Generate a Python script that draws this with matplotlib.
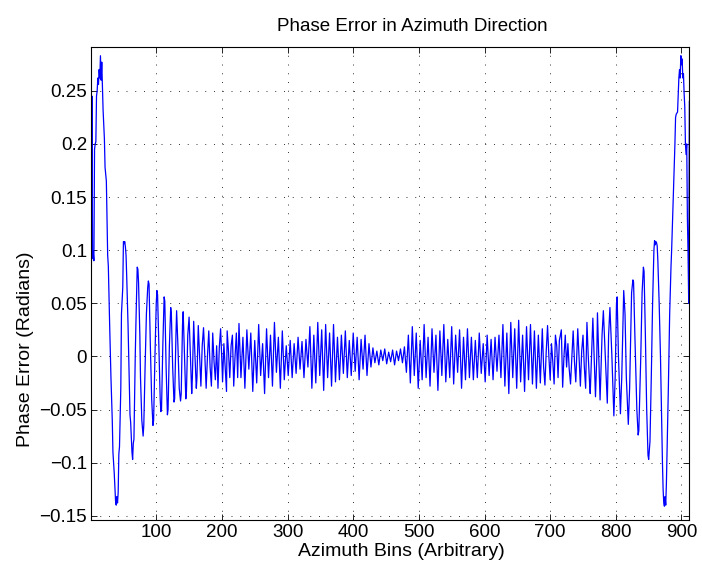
import numpy as np
import matplotlib
matplotlib.use("Agg")
import matplotlib.pyplot as plt

plt.rcParams['font.family'] = ['Liberation Sans', 'DejaVu Sans']

# left edge: big decaying swings (bin, radians)
left_x = [1, 2, 3, 4, 5, 6, 7, 8, 9, 10, 11, 12, 13, 14, 15, 16, 17, 18, 19, 21,
          22, 23, 24, 26, 27, 29, 31, 33, 34, 36, 38, 39, 40, 41, 42, 43, 44, 46, 47, 49,
          50, 51, 52, 53, 54, 55, 57, 59, 60, 61, 63, 64, 65, 66, 68, 69, 71, 72, 73, 75,
          76, 78, 80, 81, 83, 85, 87, 88, 89, 91, 93, 95, 96, 98, 100, 101, 102, 104, 106, 107,
          108, 110, 112, 113, 115, 117, 118, 120, 122, 123, 125, 127, 128, 130, 131, 133, 135, 137, 138, 140,
          141, 143, 145, 146, 148, 150, 152, 154, 155, 157, 159, 161, 162, 164, 166, 168, 170, 172, 174, 176,
          178, 180, 182, 184, 186, 188, 190, 192, 194, 196, 198, 200, 201, 203, 205, 207, 208, 210, 212, 214,
          216, 218, 220, 222, 224]
left_y = [0.046, 0.245, 0.092, 0.098, 0.09, 0.195, 0.2, 0.202, 0.245, 0.25, 0.262, 0.256, 0.27, 0.262, 0.283, 0.26, 0.277, 0.255, 0.232, 0.205,
          0.178, 0.172, 0.165, 0.095, 0.085, 0.03, -0.02, -0.06, -0.09, -0.11, -0.136, -0.14, -0.132, -0.138, -0.128, -0.092, -0.085, -0.03, 0.04, 0.065,
          0.108, 0.106, 0.108, 0.103, 0.095, 0.075, 0.03, -0.03, -0.055, -0.062, -0.09, -0.097, -0.082, -0.078, 0.0, 0.03, 0.084, 0.082, 0.07, 0.02,
          -0.02, -0.06, -0.075, -0.065, -0.01, 0.04, 0.065, 0.071, 0.068, 0.01, -0.04, -0.065, -0.06, 0.0, 0.05, 0.062, 0.058, 0.01, -0.04, -0.052,
          -0.05, 0.01, 0.056, 0.052, -0.01, -0.055, -0.05, 0.01, 0.046, 0.04, -0.01, -0.043, -0.04, 0.02, 0.043, 0.01, -0.03, -0.042, -0.035, 0.03,
          0.042, 0.0, -0.04, -0.033, 0.02, 0.037, 0.0, -0.035, -0.02, 0.033, 0.0, -0.03, -0.02, 0.029, 0.0, -0.028, 0.01, 0.027, 0.0, -0.03,
          0.0, 0.024, -0.01, -0.028, 0.022, -0.005, -0.022, 0.01, -0.03, 0.008, 0.026, -0.005, -0.024, 0.012, -0.01, -0.033, 0.024, 0.005, -0.02, 0.01,
          0.02, -0.028, 0.0, 0.022, -0.02]

# middle: dense small ripple, one value every 3 bins starting at bin 226
mid_start = 226
mid_step = 3
mid_y = [0.031, -0.02, 0.018, -0.03, 0.025, -0.012, 0.022, -0.033, 0.015, -0.025, 0.03, -0.018, 0.012, -0.035, 0.026, -0.02, 0.02, -0.028, 0.032, -0.015, 0.018, -0.03, 0.024, -0.022, 0.01,
         -0.018, 0.015, -0.02, 0.012, -0.016, 0.018, -0.012, 0.014, -0.02, 0.016, -0.01,
         0.028, -0.03, 0.02, -0.025, 0.032, -0.018, 0.025, -0.032, 0.03, -0.02, 0.022, -0.028, 0.03, -0.024, 0.018,
         -0.022, 0.02, -0.016, 0.024, -0.02, 0.015, -0.018, 0.022, -0.014, 0.018, -0.022, 0.016, -0.012, 0.02, -0.018, 0.012, -0.01,
         0.008, -0.006, 0.005, -0.008, 0.006, -0.004, 0.007, -0.007, 0.004, -0.005, 0.006, -0.008, 0.005, -0.004, 0.007, -0.006, 0.009,
         -0.015, 0.02, -0.025, 0.028, -0.018, 0.022, -0.03, 0.015, -0.022, 0.03, -0.02, 0.018, -0.028, 0.026, -0.015, 0.02, -0.032, 0.024, -0.018, 0.03, -0.024, 0.016, -0.02, 0.028, -0.026, 0.02, -0.015, 0.025, -0.03, 0.018, -0.022, 0.026, -0.02,
         0.018, -0.022, 0.015, -0.02, 0.022, -0.016, 0.012, -0.024, 0.02, -0.018, 0.016, -0.022, 0.018, -0.014, 0.02, -0.02,
         0.03, -0.028, 0.022, -0.035, 0.032, -0.02, 0.026, -0.03, 0.034, -0.024, 0.02, -0.033, 0.028, -0.022, 0.03, -0.026, 0.024, -0.03, 0.02, -0.025]

# right edge: swings growing again towards the end
right_x = [688, 690, 692, 694, 696, 698, 700, 702, 704, 706, 708, 710, 712, 714, 717, 719, 721, 723, 725, 727,
           729, 731, 733, 735, 737, 739, 742, 744, 746, 748, 750, 752, 754, 756, 758, 760, 761, 763, 765, 767,
           769, 771, 772, 774, 776, 779, 781, 784, 787, 789, 791, 794, 797, 799, 801, 802, 804, 807, 809, 812,
           814, 816, 819, 821, 824, 826, 827, 829, 832, 834, 835, 838, 840, 842, 843, 845, 847, 849, 850, 852,
           854, 856, 858, 859, 860, 861, 862, 863, 864, 866, 868, 870, 871, 872, 873, 874, 875, 876, 877, 879,
           880, 882, 884, 885, 887, 888, 890, 891, 892, 894, 895, 896, 897, 898, 899, 900, 901, 902, 903, 904,
           905, 906, 907, 908, 909, 910, 911, 912]
right_y = [0.026, -0.01, -0.027, 0.005, 0.029, 0.0, -0.022, 0.012, -0.005, -0.026, 0.02, 0.01, -0.02, 0.015, 0.025, -0.029, 0.0, 0.02, -0.01, 0.012,
           -0.012, -0.026, 0.0, 0.024, -0.005, -0.024, 0.026, 0.0, -0.028, 0.005, 0.02, -0.01, -0.03, 0.032, 0.0, -0.025, -0.035, 0.0, 0.036, 0.0,
           -0.038, 0.0, 0.041, 0.0, -0.041, 0.02, 0.043, 0.0, -0.044, 0.02, 0.046, 0.0, -0.056, -0.02, 0.05, 0.056, 0.0, -0.054, -0.02, 0.062,
           0.04, -0.02, -0.064, -0.03, 0.06, 0.072, 0.07, 0.02, -0.05, -0.074, -0.07, 0.0, 0.06, 0.084, 0.08, 0.02, -0.05, -0.093, -0.097, -0.08,
           -0.02, 0.05, 0.1, 0.109, 0.105, 0.108, 0.107, 0.104, 0.09, 0.05, 0.0, -0.07, -0.1, -0.125, -0.138, -0.141, -0.132, -0.14, -0.12, -0.06,
           -0.03, 0.04, 0.084, 0.1, 0.14, 0.158, 0.2, 0.225, 0.228, 0.23, 0.245, 0.262, 0.27, 0.262, 0.283, 0.275, 0.28, 0.262, 0.266, 0.248,
           0.235, 0.2, 0.19, 0.2, 0.13, 0.097, 0.05, 0.24]

x_ticks = [100, 200, 300, 400, 500, 600, 700, 800, 900]
y_ticks = [-0.15, -0.1, -0.05, 0, 0.05, 0.1, 0.15, 0.2, 0.25]
y_tick_labels = ['\u22120.15', '\u22120.1', '\u22120.05', '0', '0.05', '0.1', '0.15', '0.2', '0.25']

mid_x = mid_start + mid_step * np.arange(len(mid_y))
x = np.concatenate([left_x, mid_x, right_x])
y = np.concatenate([left_y, mid_y, right_y])

fig = plt.figure(figsize=(7.02, 5.73), dpi=100)
ax = fig.add_axes([0.130, 0.0925, 0.852, 0.826])

ax.plot(x, y, color='#0000ff', linewidth=0.9)

ax.set_xlim(1, 912)
ax.set_ylim(-0.154, 0.2915)
ax.set_xticks(x_ticks)
ax.set_yticks(y_ticks)
ax.set_yticklabels(y_tick_labels)

ax.grid(True, color='0.2', linestyle=(0, (1, 8)), linewidth=0.7)
ax.tick_params(direction='in', top=True, right=True, length=4, width=0.6, labelsize=13.5, pad=3)
for s in ax.spines.values():
    s.set_linewidth(0.8)

# labels sit a little off-centre in the original export
ax.set_title('Phase Error in Azimuth Direction', fontsize=13.5, pad=11, x=0.536)
ax.set_xlabel('Azimuth Bins (Arbitrary)', fontsize=14, labelpad=1)
ax.xaxis.label.set_x(0.519)
ax.set_ylabel('Phase Error (Radians)', fontsize=14, labelpad=4)
ax.yaxis.label.set_y(0.36)

fig.savefig('out.png', dpi=100)
